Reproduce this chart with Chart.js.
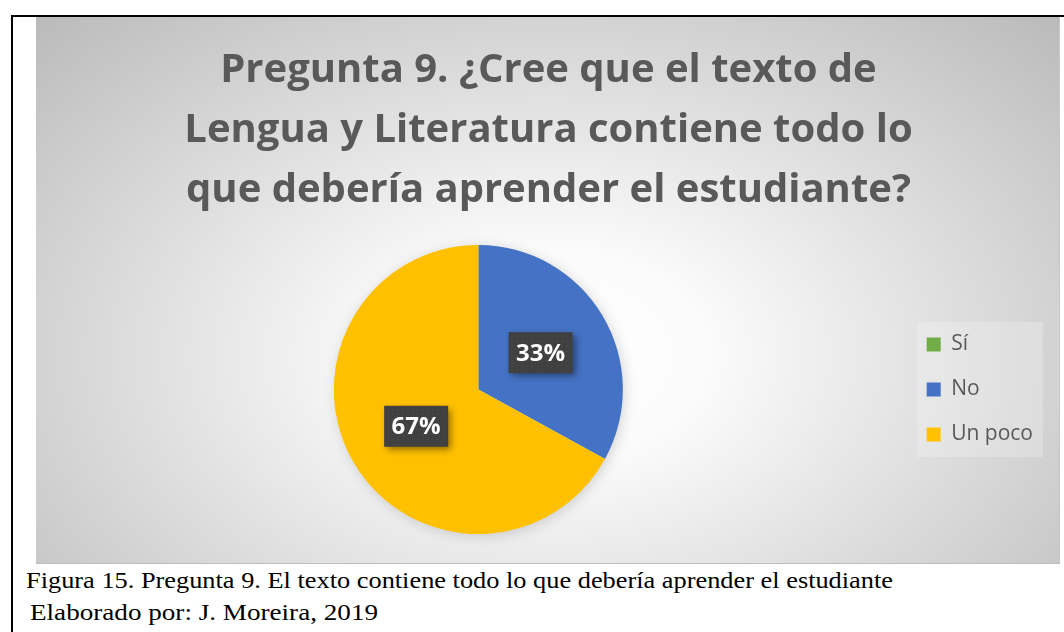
<!DOCTYPE html>
<html>
<head>
<meta charset="utf-8">
<script src="https://cdn.jsdelivr.net/npm/chart.js@4.4.1/dist/chart.umd.min.js"></script>
<style>
  html, body { margin:0; padding:0; background:#fff; }
  body { width:1064px; height:632px; position:relative; overflow:hidden; }
  #frame { position:absolute; left:11px; top:15px; width:1060px; height:630px;
           border-top:2px solid #000; border-left:2px solid #000; }
  #wrap { position:absolute; left:36px; top:17px; width:1023px; height:546px;
          background: radial-gradient(ellipse farthest-corner at 50% 62%, #ffffff 0%, #fbfbfb 22%, #bababa 100%);
          border-bottom:1px solid #bdbdbd; border-right:1px solid #c8c8c8; }
  canvas { position:absolute; left:0; top:0; }
  .cap { position:absolute; font-family:"Liberation Serif","Times New Roman",serif; font-size:24px;
         line-height:24px; color:#000; white-space:nowrap; transform-origin:0 0; }
</style>
</head>
<body>
<div id="frame"></div>
<div id="wrap"><canvas id="c" width="1023" height="546"></canvas></div>
<div class="cap" id="cap1" data-w="867" style="left:26px; top:568px;">Figura 15. Pregunta 9. El texto contiene todo lo que debería aprender el estudiante</div>
<div class="cap" id="cap2" data-w="348" style="left:30px; top:600px;">Elaborado por: J. Moreira, 2019</div>
<script>
const titleLines = ['Pregunta 9. ¿Cree que el texto de', 'Lengua y Literatura contiene todo lo', 'que debería aprender el estudiante?'];
const categories = ['Sí', 'No', 'Un poco'];
const values = [0, 33, 67];
const colors = ['#70AD47', '#4472C4', '#FFC000'];

document.querySelectorAll('.cap').forEach(el => {
  const w = el.getBoundingClientRect().width;
  el.style.transform = 'scaleX(' + (parseFloat(el.dataset.w) / w) + ')';
});

const pieShadow = {
  id: 'pieShadow',
  beforeDatasetsDraw(chart) {
    const arc = chart.getDatasetMeta(0).data[0];
    if (!arc) return;
    const ctx = chart.ctx;
    ctx.save();
    ctx.shadowColor = 'rgba(0,0,0,0.18)';
    ctx.shadowBlur = 14;
    ctx.shadowOffsetX = 2; ctx.shadowOffsetY = 2;
    ctx.fillStyle = '#ffffff';
    ctx.beginPath();
    ctx.arc(arc.x, arc.y, arc.outerRadius - 1, 0, Math.PI * 2);
    ctx.fill();
    ctx.restore();
  }
};

const legendBg = {
  id: 'legendBg',
  beforeDraw(chart) {
    const lg = chart.legend;
    if (!lg || !lg.legendHitBoxes || !lg.legendHitBoxes.length) return;
    const hb = lg.legendHitBoxes;
    const x0 = Math.min(...hb.map(h => h.left)) - 10;
    const x1 = Math.max(...hb.map(h => h.left + h.width)) + 10;
    const y0 = Math.min(...hb.map(h => h.top)) - 12;
    const y1 = Math.max(...hb.map(h => h.top + h.height)) + 12;
    const ctx = chart.ctx;
    ctx.save();
    ctx.fillStyle = 'rgba(255,255,255,0.22)';
    ctx.fillRect(x0, y0, x1 - x0, y1 - y0);
    ctx.restore();
  }
};

const dataLabels = {
  id: 'dataLabels',
  afterDatasetsDraw(chart) {
    const ctx = chart.ctx;
    const meta = chart.getDatasetMeta(0);
    const ds = chart.data.datasets[0].data;
    const total = ds.reduce((a, b) => a + b, 0);
    meta.data.forEach((arc, i) => {
      if (!ds[i]) return;
      const p = arc.tooltipPosition();
      const txt = Math.round(ds[i] / total * 100) + '%';
      const w = 64, h = 41;
      const x = p.x - w / 2, y = p.y - h / 2;
      ctx.save();
      ctx.shadowColor = 'rgba(0,0,0,0.45)';
      ctx.shadowBlur = 7;
      ctx.shadowOffsetX = 3; ctx.shadowOffsetY = 3;
      ctx.fillStyle = '#404040';
      ctx.fillRect(x, y, w, h);
      ctx.restore();
      ctx.save();
      ctx.fillStyle = '#4b4b4b';
      for (let yy = y + 3; yy < y + h - 1; yy += 5) {
        for (let xx = x + 3; xx < x + w - 1; xx += 5) {
          ctx.fillRect(xx, yy, 1.5, 1.5);
        }
      }
      ctx.fillStyle = '#ffffff';
      ctx.font = 'bold 24px "Open Sans"';
      ctx.textAlign = 'center';
      ctx.textBaseline = 'middle';
      ctx.fillText(txt, p.x, p.y + 1);
      ctx.restore();
    });
  }
};

new Chart(document.getElementById('c'), {
  type: 'pie',
  data: {
    labels: categories,
    datasets: [{ data: values, backgroundColor: colors, borderWidth: 0 }]
  },
  options: {
    responsive: false,
    animation: false,
    rotation: 0,
    layout: { padding: { left: 18, right: 16, top: 0, bottom: 29 } },
    plugins: {
      title: {
        display: true,
        text: titleLines,
        color: '#595959',
        font: { family: 'Open Sans', size: 40, weight: 'bold', lineHeight: 1.5 },
        padding: { top: 24, bottom: 24 }
      },
      legend: {
        position: 'right',
        align: 'center',
        fullSize: false,
        labels: {
          color: '#595959',
          font: { family: 'Open Sans', size: 21 },
          boxWidth: 14, boxHeight: 14,
          padding: 24
        }
      },
      tooltip: { enabled: false }
    }
  },
  plugins: [pieShadow, legendBg, dataLabels]
});
</script>
</body>
</html>
